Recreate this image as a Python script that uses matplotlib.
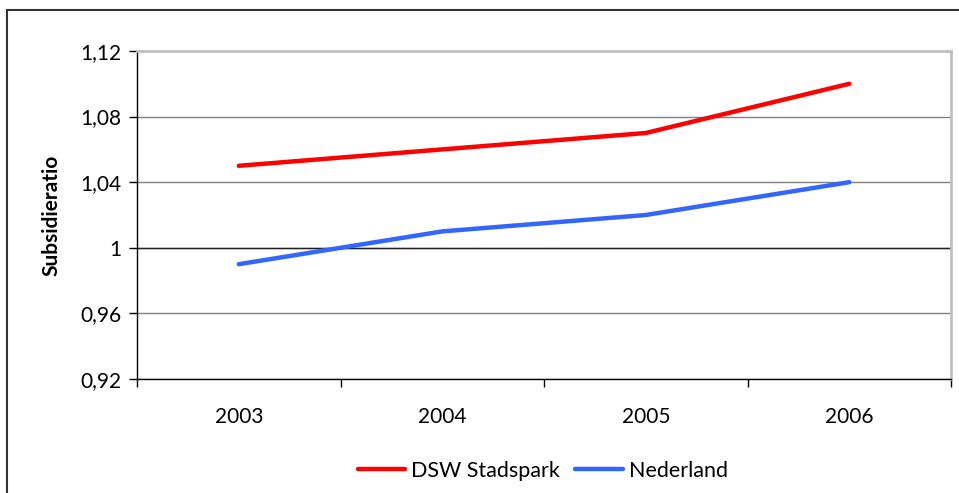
import numpy as np
import matplotlib.pyplot as plt
from matplotlib.patches import Rectangle

plt.rcParams['font.family'] = ['Lato', 'DejaVu Sans']

years = ['2003', '2004', '2005', '2006']
dsw = [1.05, 1.06, 1.07, 1.10]
nederland = [0.99, 1.01, 1.02, 1.04]
yticks = [0.92, 0.96, 1.00, 1.04, 1.08, 1.12]
ylabels = ['0,92', '0,96', '1', '1,04', '1,08', '1,12']

fig = plt.figure(figsize=(9.59, 4.93), dpi=100)
ax = fig.add_axes([0.1429, 0.2312, 0.8488, 0.6654])

# outer chart frame
fig.patches.append(Rectangle((0.0073, -0.1), 1.2, 1.0797, transform=fig.transFigure,
                             fill=False, edgecolor='#333333', linewidth=1.5))

x = np.arange(len(years))
ax.plot(x, dsw, color='#ff0000', linewidth=3.2, solid_capstyle='round', label='DSW Stadspark')
ax.plot(x, nederland, color='#3366ff', linewidth=3.2, solid_capstyle='round', label='Nederland')

ax.set_xlim(-0.5, 3.5)
ax.set_ylim(0.92, 1.12)
ax.set_yticks(yticks)
ax.set_yticklabels(ylabels)
ax.set_xticks(x)
ax.set_xticklabels(years)
ax.set_xticks(np.arange(-0.5, 4, 1), minor=True)
ax.tick_params(axis='x', which='major', length=0, pad=20, labelsize=15)
ax.tick_params(axis='x', which='minor', length=6, width=1, direction='out')
ax.tick_params(axis='y', length=6, width=1, direction='out', labelsize=15, pad=5)

ax.grid(axis='y', color='#808080', linewidth=1)
ax.axhline(1.0, color='#202020', linewidth=1, zorder=1)
ax.set_axisbelow(True)
for side in ['top', 'right']:
    ax.spines[side].set_color('#c0c0c0')
    ax.spines[side].set_linewidth(2)
for side in ['left', 'bottom']:
    ax.spines[side].set_color('#000000')
    ax.spines[side].set_linewidth(1)

ax.set_ylabel('Subsidieratio', fontsize=15, fontweight='bold', labelpad=14)

fig.legend(loc='center', bbox_to_anchor=(0.566, 0.045), ncol=2, frameon=False,
           fontsize=15.5, handlelength=2.2, handletextpad=0.3, columnspacing=0.7)

fig.savefig('out.png', dpi=100)
